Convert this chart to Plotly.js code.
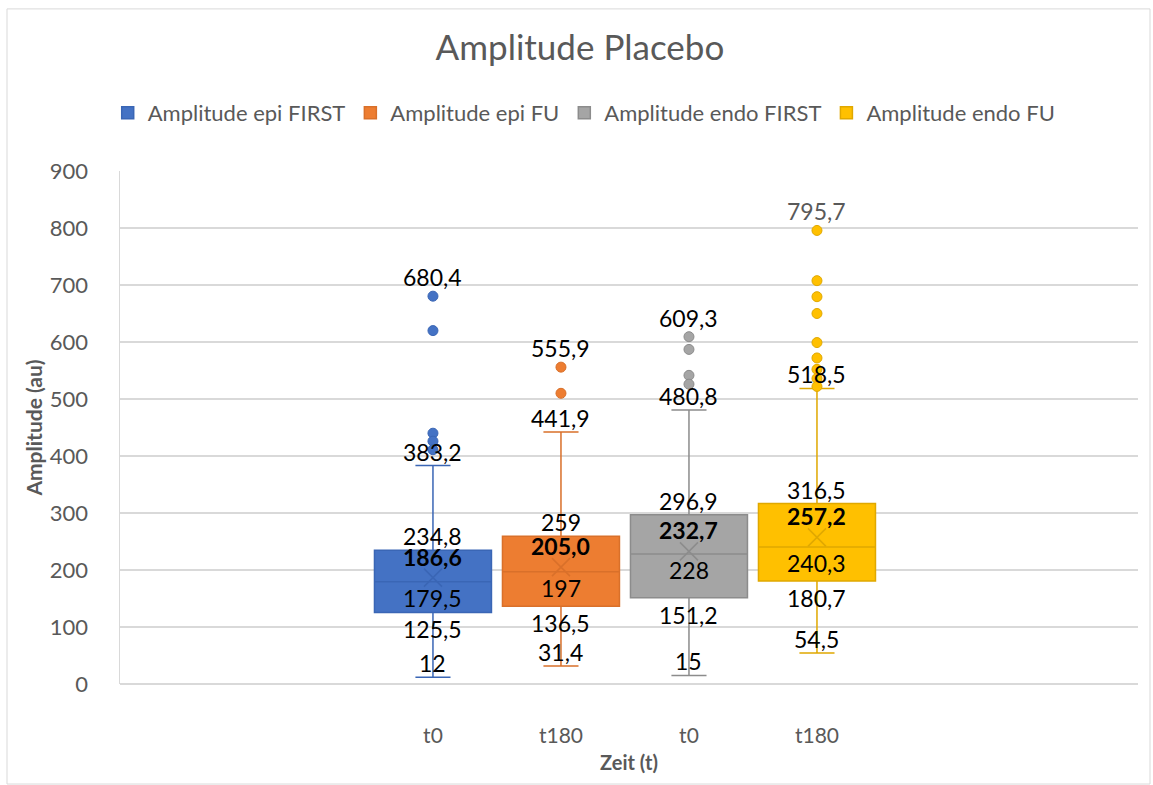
<!DOCTYPE html>
<html>
<head>
<meta charset="utf-8">
<script src="https://cdn.plot.ly/plotly-3.0.1.min.js"></script>
<style>html,body{margin:0;padding:0;background:#fff;}#chart{width:1153px;height:785px;}</style>
</head>
<body>
<div id="chart"></div>
<script>
// ---- data ----
const categories = ['t0', 't180', 't0', 't180'];
const seriesNames = ['Amplitude epi FIRST', 'Amplitude epi FU', 'Amplitude endo FIRST', 'Amplitude endo FU'];
const q1Values = [125.5, 136.5, 151.2, 180.7];
const medianValues = [179.5, 197, 228, 240.3];
const q3Values = [234.8, 259, 296.9, 316.5];
const lowerWhiskers = [12, 31.4, 15, 54.5];
const upperWhiskers = [383.2, 441.9, 480.8, 518.5];
const meanValues = [186.6, 205.0, 232.7, 257.2];
const outliersEpiFirst = [680.4, 620, 440, 426, 411];
const outliersEpiFu = [555.9, 510];
const outliersEndoFirst = [609.3, 587, 541.5, 526];
const outliersEndoFu = [795.7, 707.6, 679.5, 650, 599, 572, 552, 536, 522];
const outlierSets = [outliersEpiFirst, outliersEpiFu, outliersEndoFirst, outliersEndoFu];
const yTickValues = [0, 100, 200, 300, 400, 500, 600, 700, 800, 900];

// ---- styles ----
const fillColors = ['#4472C4', '#ED7D31', '#A5A5A5', '#FFC000'];
const lineColors = ['#3A66B5', '#D9702A', '#8C8C8C', '#E0A800'];
const FONT = 'Lato, "Open Sans", sans-serif';
const positions = categories.map((c, i) => i);

const fmt = (v, dec) => (dec ? v.toFixed(1) : String(v)).replace('.', ',');

const traces = [];
positions.forEach((p, i) => {
  traces.push({
    type: 'box',
    name: seriesNames[i],
    x: [p],
    q1: [q1Values[i]],
    median: [medianValues[i]],
    q3: [q3Values[i]],
    lowerfence: [lowerWhiskers[i]],
    upperfence: [upperWhiskers[i]],
    width: 0.914,
    whiskerwidth: 0.3,
    fillcolor: fillColors[i],
    line: {color: lineColors[i], width: 1.5},
    boxpoints: false,
    hoverinfo: 'skip'
  });
});
positions.forEach((p, i) => {
  traces.push({
    type: 'scatter', mode: 'markers', showlegend: false, hoverinfo: 'skip',
    x: outlierSets[i].map(() => p), y: outlierSets[i],
    marker: {size: 10, color: fillColors[i], line: {color: lineColors[i], width: 1}}
  });
  traces.push({
    type: 'scatter', mode: 'markers', showlegend: false, hoverinfo: 'skip',
    x: [p], y: [meanValues[i]],
    marker: {size: 18, symbol: 'x-thin-open', color: lineColors[i], line: {color: lineColors[i], width: 1.5}}
  });
});

const annotations = [];
function lab(x, y, text, shift, bold, color) {
  annotations.push({
    x: x, y: y, xref: 'x', yref: 'y', text: bold ? '<b>' + text + '</b>' : text,
    showarrow: false, xanchor: 'center', yanchor: 'middle', yshift: shift,
    font: {family: FONT, size: 23, color: color || '#000000'}
  });
}
positions.forEach((p, i) => {
  lab(p, q3Values[i], fmt(q3Values[i]), 14);
  lab(p, meanValues[i], fmt(meanValues[i], true), 21, true);
  lab(p, medianValues[i], fmt(medianValues[i]), -16);
  lab(p, q1Values[i], fmt(q1Values[i]), -17);
  lab(p, lowerWhiskers[i], fmt(lowerWhiskers[i]), 14);
  lab(p, upperWhiskers[i], fmt(upperWhiskers[i]), 14);
  const mx = Math.max(...outlierSets[i]);
  lab(p, mx, fmt(mx), 19, false, i === 3 ? '#595959' : '#000000');
});

const layout = {
  width: 1153, height: 785,
  margin: {l: 120, r: 15, t: 171, b: 101, pad: 0, autoexpand: false},
  paper_bgcolor: '#ffffff', plot_bgcolor: '#ffffff',
  font: {family: FONT, color: '#595959'},
  title: {text: 'Amplitude Placebo', font: {family: FONT, size: 35, color: '#595959'},
          x: 0.503, xref: 'container', xanchor: 'center', y: 1 - 48 / 785, yref: 'container', yanchor: 'middle'},
  showlegend: true,
  legend: {orientation: 'h', xref: 'paper', x: 0.456, xanchor: 'center', y: 1.113, yanchor: 'middle',
           font: {family: FONT, size: 22, color: '#595959'}, itemclick: false, tracegroupgap: 0,
           itemwidth: 30},
  xaxis: {
    range: [-2.445, 5.508], tickvals: positions, ticktext: categories,
    showgrid: false, zeroline: false, showline: false, ticks: '',
    ticklabelstandoff: 37,
    tickfont: {family: FONT, size: 21, color: '#595959'},
    title: {text: '<b>Zeit (t)</b>', font: {family: FONT, size: 20, color: '#595959'}, standoff: 9}
  },
  yaxis: {
    range: [0, 900], tickvals: yTickValues, ticktext: yTickValues.map(String),
    showgrid: true, gridcolor: '#D9D9D9', gridwidth: 1.5,
    zeroline: true, zerolinecolor: '#D9D9D9', zerolinewidth: 1.5,
    showline: true, linecolor: '#D9D9D9', linewidth: 1.5, ticks: '',
    ticklabelstandoff: 26,
    tickfont: {family: FONT, size: 22, color: '#595959'},
    title: {text: '<b>Amplitude (au)</b>', font: {family: FONT, size: 21, color: '#595959'}, standoff: 1}
  },
  annotations: annotations,
  shapes: [{type: 'rect', xref: 'paper', yref: 'paper', x0: -0.111, x1: 1.0118, y0: -0.195, y1: 1.316,
            line: {color: '#D9D9D9', width: 1}, layer: 'below'}]
};

Plotly.newPlot('chart', traces, layout, {displayModeBar: false, staticPlot: true});
</script>
</body>
</html>
